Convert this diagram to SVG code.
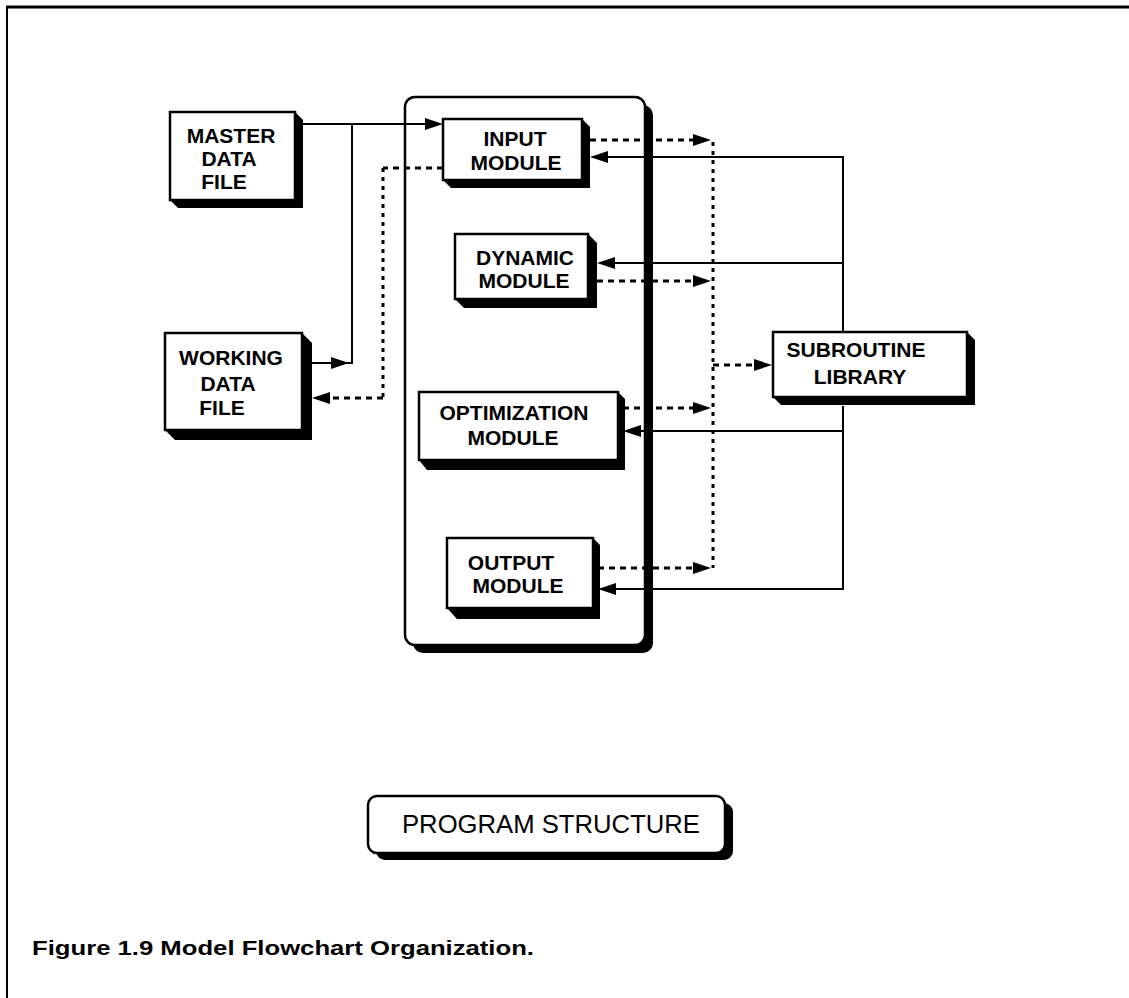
<svg xmlns="http://www.w3.org/2000/svg" width="1129" height="998" viewBox="0 0 1129 998">
<style>
  .box { fill: #fff; stroke: #000; stroke-width: 2.5; }
  .shadow { fill: #000; }
  .lbl { font-family: "Liberation Sans", Arial, Helvetica, sans-serif; font-weight: bold; font-size: 21px; text-anchor: middle; fill: #000; }
  .solid { fill: none; stroke: #000; stroke-width: 2; }
  .dot { fill: none; stroke: #000; stroke-width: 3; stroke-dasharray: 6 5; }
  .dotv { fill: none; stroke: #000; stroke-width: 3; stroke-dasharray: 4 5; }
  .ah { fill: #000; }
  .title { font-family: "Liberation Sans", Arial, Helvetica, sans-serif; font-size: 25px; fill: #000; }
  .cap { font-family: "Liberation Sans", Arial, Helvetica, sans-serif; font-weight: bold; font-size: 21px; fill: #000; }
</style>
<rect x="0" y="0" width="1129" height="998" fill="#fff"/>
<g id="frame">
  <line x1="6" y1="7" x2="1129" y2="7" stroke="#000" stroke-width="3"/>
  <line x1="7" y1="6" x2="7" y2="998" stroke="#000" stroke-width="2"/>
</g>

<g id="container">
  <rect x="413" y="105" width="240" height="548" rx="10" class="shadow"/>
  <rect x="405" y="97" width="240" height="548" rx="10" class="box"/>
</g>

<g id="connectors">
  <!-- master -> input -->
  <path class="solid" d="M303,124 H430"/>
  <!-- working -> junction up to master line -->
  <path class="solid" d="M312,363 H352 V124"/>
  <!-- input -> working (dotted) -->
  <path class="dot" d="M443,168 H383"/>
  <path class="dotv" d="M383,168 V398"/>
  <path class="dot" d="M383,398 H326"/>
  <!-- module outputs (dotted) to bus -->
  <path class="dot" d="M590,140 H698"/>
  <path class="dot" d="M597,281 H698"/>
  <path class="dot" d="M623,408 H698"/>
  <path class="dot" d="M598,568 H698"/>
  <path class="dotv" d="M713,142 V568"/>
  <path class="dot" d="M713,365 H758"/>
  <!-- subroutine library returns (solid) -->
  <path class="solid" d="M843,332 V157 H604"/>
  <path class="solid" d="M843,263 H611"/>
  <path class="solid" d="M843,406 V589 H612"/>
  <path class="solid" d="M843,431 H637"/>
  <!-- arrowheads -->
  <polygon class="ah" points="443,124 425,118 425,130"/>
  <polygon class="ah" points="349,363 331,357 331,369"/>
  <polygon class="ah" points="312,398 330,392 330,404"/>
  <polygon class="ah" points="711,140 693,134 693,146"/>
  <polygon class="ah" points="711,281 693,275 693,287"/>
  <polygon class="ah" points="711,408 693,402 693,414"/>
  <polygon class="ah" points="711,568 693,562 693,574"/>
  <polygon class="ah" points="772,365 754,359 754,371"/>
  <polygon class="ah" points="590,157 608,151 608,163"/>
  <polygon class="ah" points="597,263 615,257 615,269"/>
  <polygon class="ah" points="623,431 641,425 641,437"/>
  <polygon class="ah" points="598,589 616,583 616,595"/>
</g>

<g id="master">
  <polygon class="shadow" points="295,112 303,120 303,208 178,208 170,200"/>
  <rect class="box" x="170" y="112" width="125" height="88"/>
  <text class="lbl" x="231" y="143">MASTER</text>
  <text class="lbl" x="229" y="166">DATA</text>
  <text class="lbl" x="224" y="189">FILE</text>
</g>

<g id="working">
  <polygon class="shadow" points="302,333 312,343 312,440 175,440 165,430"/>
  <rect class="box" x="165" y="333" width="137" height="97"/>
  <text class="lbl" x="231" y="365">WORKING</text>
  <text class="lbl" x="228" y="391">DATA</text>
  <text class="lbl" x="222" y="415">FILE</text>
</g>

<g id="input">
  <polygon class="shadow" points="582,119 590,127 590,188 451,188 443,180"/>
  <rect class="box" x="443" y="119" width="139" height="61"/>
  <text class="lbl" x="515" y="146">INPUT</text>
  <text class="lbl" x="516" y="170">MODULE</text>
</g>

<g id="dynamic">
  <polygon class="shadow" points="588,234 597,243 597,308 464,308 455,299"/>
  <rect class="box" x="455" y="234" width="133" height="65"/>
  <text class="lbl" x="525" y="265">DYNAMIC</text>
  <text class="lbl" x="524" y="288">MODULE</text>
</g>

<g id="optimization">
  <polygon class="shadow" points="618,392 625,399 625,470 427,470 419,460"/>
  <rect class="box" x="419" y="392" width="199" height="68"/>
  <text class="lbl" x="514" y="420">OPTIMIZATION</text>
  <text class="lbl" x="513" y="445">MODULE</text>
</g>

<g id="output">
  <polygon class="shadow" points="593,538 600,545 600,619 457,619 447,608"/>
  <rect class="box" x="447" y="538" width="146" height="70"/>
  <text class="lbl" x="511" y="570">OUTPUT</text>
  <text class="lbl" x="518" y="593">MODULE</text>
</g>

<g id="subroutine">
  <polygon class="shadow" points="967,332 975,340 975,405 781,405 773,397"/>
  <rect class="box" x="773" y="332" width="194" height="65"/>
  <text class="lbl" x="856" y="357">SUBROUTINE</text>
  <text class="lbl" x="860" y="384">LIBRARY</text>
</g>

<g id="program-structure">
  <rect x="376" y="803" width="357" height="57" rx="9" class="shadow"/>
  <rect x="368" y="796" width="357" height="57" rx="9" class="box"/>
  <text class="title" x="402" y="833" textLength="298" lengthAdjust="spacingAndGlyphs">PROGRAM STRUCTURE</text>
</g>

<g id="caption">
  <text class="cap" x="32" y="955" textLength="502" lengthAdjust="spacingAndGlyphs">Figure 1.9 Model Flowchart Organization.</text>
</g>
</svg>
